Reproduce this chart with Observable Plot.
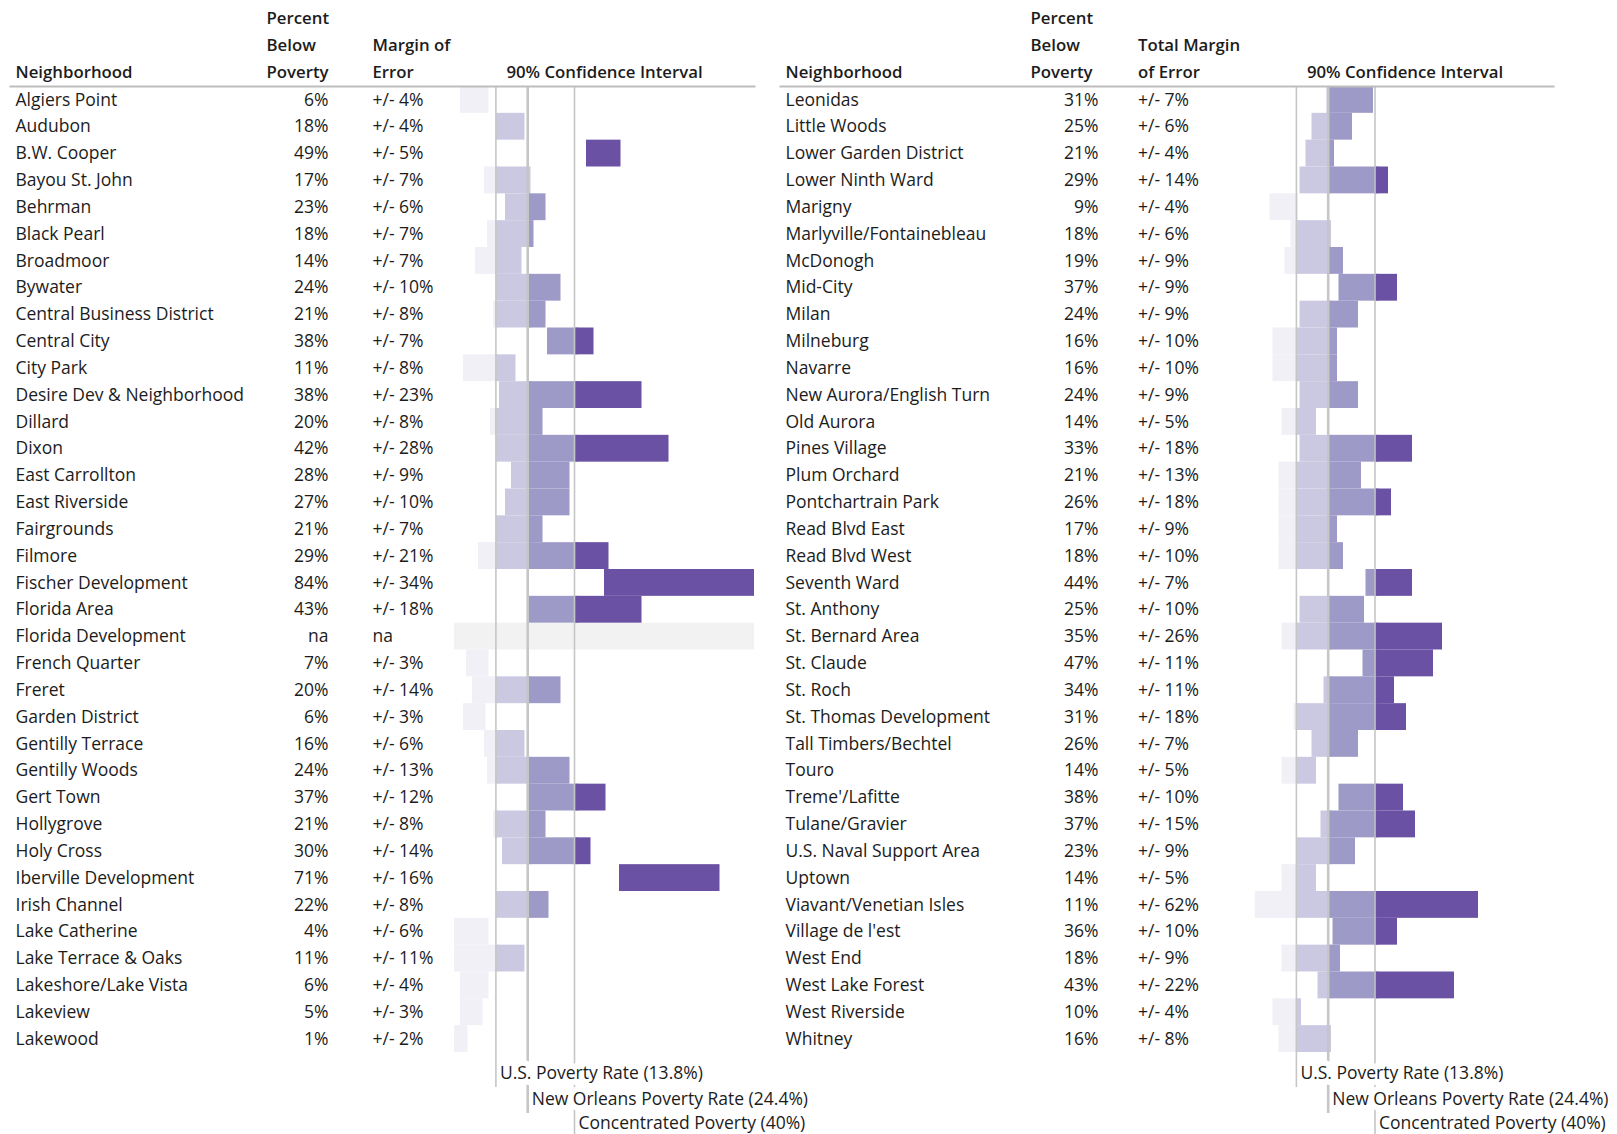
<!DOCTYPE html>
<html><head><meta charset="utf-8">
<script src="https://cdn.jsdelivr.net/npm/d3@7"></script>
<script src="https://cdn.jsdelivr.net/npm/@observablehq/plot@0.6"></script>
<style>
body{margin:0;background:#fff;}
#wrap{position:relative;width:1617px;height:1134px;overflow:hidden;background:#fff;}
#left,#right{position:absolute;top:0;}
#left{left:0px;z-index:2}
#right{left:777px;z-index:1}
#wrap svg{overflow:visible;}
</style></head>
<body><div id="wrap"><div id="left"></div><div id="right"></div></div>
<script>
// ---------- data ----------
const leftNames = ["Algiers Point","Audubon","B.W. Cooper","Bayou St. John","Behrman","Black Pearl","Broadmoor","Bywater","Central Business District","Central City","City Park","Desire Dev & Neighborhood","Dillard","Dixon","East Carrollton","East Riverside","Fairgrounds","Filmore","Fischer Development","Florida Area","Florida Development","French Quarter","Freret","Garden District","Gentilly Terrace","Gentilly Woods","Gert Town","Hollygrove","Holy Cross","Iberville Development","Irish Channel","Lake Catherine","Lake Terrace & Oaks","Lakeshore/Lake Vista","Lakeview","Lakewood"];
const leftPct = [6,18,49,17,23,18,14,24,21,38,11,38,20,42,28,27,21,29,84,43,null,7,20,6,16,24,37,21,30,71,22,4,11,6,5,1];
const leftMoe = [4,4,5,7,6,7,7,10,8,7,8,23,8,28,9,10,7,21,34,18,null,3,14,3,6,13,12,8,14,16,8,6,11,4,3,2];

const rightNames = ["Leonidas","Little Woods","Lower Garden District","Lower Ninth Ward","Marigny","Marlyville/Fontainebleau","McDonogh","Mid-City","Milan","Milneburg","Navarre","New Aurora/English Turn","Old Aurora","Pines Village","Plum Orchard","Pontchartrain Park","Read Blvd East","Read Blvd West","Seventh Ward","St. Anthony","St. Bernard Area","St. Claude","St. Roch","St. Thomas Development","Tall Timbers/Bechtel","Touro","Treme'/Lafitte","Tulane/Gravier","U.S. Naval Support Area","Uptown","Viavant/Venetian Isles","Village de l'est","West End","West Lake Forest","West Riverside","Whitney"];
const rightPct = [31,25,21,29,9,18,19,37,24,16,16,24,14,33,21,26,17,18,44,25,35,47,34,31,26,14,38,37,23,14,11,36,18,43,10,16];
const rightMoe = [7,6,4,14,4,6,9,9,9,10,10,9,5,18,13,18,9,10,7,10,26,11,11,18,7,5,10,15,9,5,62,10,9,22,4,8];

const thresholds = [13.8, 24.4, 40];
const thresholdLabels = ["U.S. Poverty Rate (13.8%)", "New Orleans Poverty Rate (24.4%)", "Concentrated Poverty (40%)"];
const bandColors = ["#f1f0f7", "#cbc9e2", "#9e9ac8", "#6a51a3"];
const leftHeaders = {name: "Neighborhood", pct: ["Percent", "Below", "Poverty"], moe: ["Margin of", "Error"], ci: "90% Confidence Interval"};
const rightHeaders = {name: "Neighborhood", pct: ["Percent", "Below", "Poverty"], moe: ["Total Margin", "of Error"], ci: "90% Confidence Interval"};

// ---------- helpers ----------
const edges = [0, ...thresholds, 100];
function segments(names, pct, moe) {
  const out = [];
  names.forEach((n, i) => {
    if (pct[i] == null) return;
    const lo = Math.max(0, pct[i] - moe[i]), hi = Math.min(100, pct[i] + moe[i]);
    for (let k = 0; k < 4; k++) {
      const a = Math.max(lo, edges[k]), b = Math.min(hi, edges[k + 1]);
      if (b > a) out.push({name: n, x1: a, x2: b, band: k});
    }
  });
  return out;
}
const FONT = "'Open Sans', 'Noto Sans', sans-serif";
const FS = 17.5;
const INK = "#1c1c1c";
const ROW_DY = [-67.4, -40.6, -13.8]; // header line offsets above frame top

function panel(names, pct, moe, headers, L) {
  const rows = names.map((n, i) => ({name: n, pct: pct[i], moe: moe[i]}));
  const segs = segments(names, pct, moe);
  const txt = (o) => ({fontSize: FS, fill: INK, ...o});
  const headerMarks = [];
  const addHeader = (lines, dx, anchor, frameAnchor) => {
    const offs = ROW_DY.slice(3 - lines.length);
    lines.forEach((s, j) => headerMarks.push(
      Plot.text([s], txt({text: d => d, frameAnchor, dx, dy: offs[j], textAnchor: anchor, lineAnchor: "middle", fontWeight: 600, fontSize: 16.8}))
    ));
  };
  addHeader([headers.name], L.nameDx, "start", "top-left");
  addHeader(headers.pct, L.pctHeadDx, "start", "top-left");
  addHeader(headers.moe, L.moeDx, "start", "top-left");
  addHeader([headers.ci], 0, "middle", "top");

  const ruleW = [1.6, 2.6, 1.6];
  const ruleExt = [35, 61, 82];
  const labDy = [21, 47, 71];

  // label (with white box-like halo) then its own rule, from the lowest label to the highest,
  // so each label hides the rules of higher thresholds but not its own rule
  const refMarks = [];
  for (let i = thresholds.length - 1; i >= 0; i--) {
    const t = thresholds[i];
    refMarks.push(Plot.text([t], txt({x: d => d, text: () => thresholdLabels[i], frameAnchor: "bottom", dy: labDy[i], dx: 4, textAnchor: "start", lineAnchor: "middle", stroke: "white", strokeWidth: 12})));
    refMarks.push(Plot.ruleX([t], {x: d => d, stroke: "#c6c6c6", strokeWidth: ruleW[i], insetBottom: -ruleExt[i]}));
  }

  return Plot.plot({
    width: L.width, height: 1134,
    marginLeft: L.ml, marginRight: L.mr, marginTop: 86, marginBottom: 82,
    style: {fontFamily: FONT, background: "transparent", overflow: "visible"},
    x: {domain: [0, 100], axis: null},
    y: {domain: names, axis: null, padding: 0, round: false},
    color: {type: "ordinal", domain: [0, 1, 2, 3], range: bandColors},
    marks: [
      Plot.barX(rows.filter(d => d.pct == null), {y: "name", x1: 0, x2: 100, fill: "#f2f2f2"}),
      Plot.barX(segs, {y: "name", x1: "x1", x2: "x2", fill: "band", insetRight: -4.5, clip: true}),
      ...refMarks,
      Plot.frame({anchor: "top", stroke: "#bdbdbd", strokeWidth: 2, insetLeft: L.lineInsetLeft, insetRight: L.lineInsetRight}),
      Plot.text(rows, txt({y: "name", text: "name", frameAnchor: "left", dx: L.nameDx, textAnchor: "start"})),
      Plot.text(rows, txt({y: "name", text: d => d.pct == null ? "na" : d.pct + "%", frameAnchor: "left", dx: L.pctDx, textAnchor: "end"})),
      Plot.text(rows, txt({y: "name", text: d => d.moe == null ? "na" : "+/- " + d.moe + "%", frameAnchor: "left", dx: L.moeDx, textAnchor: "start"})),
      ...headerMarks
    ]
  });
}

document.getElementById("left").append(panel(leftNames, leftPct, leftMoe, leftHeaders, {
  width: 777, ml: 454, mr: 23, nameDx: -439, pctDx: -126, pctHeadDx: -188, moeDx: -82, lineInsetLeft: -444, lineInsetRight: 0
}));
document.getElementById("right").append(panel(rightNames, rightPct, rightMoe, rightHeaders, {
  width: 840, ml: 477.5, mr: 62.5, nameDx: -469.5, pctDx: -156.5, pctHeadDx: -224.5, moeDx: -117, lineInsetLeft: -474.5, lineInsetRight: 1.5
}));
</script>
</body></html>
